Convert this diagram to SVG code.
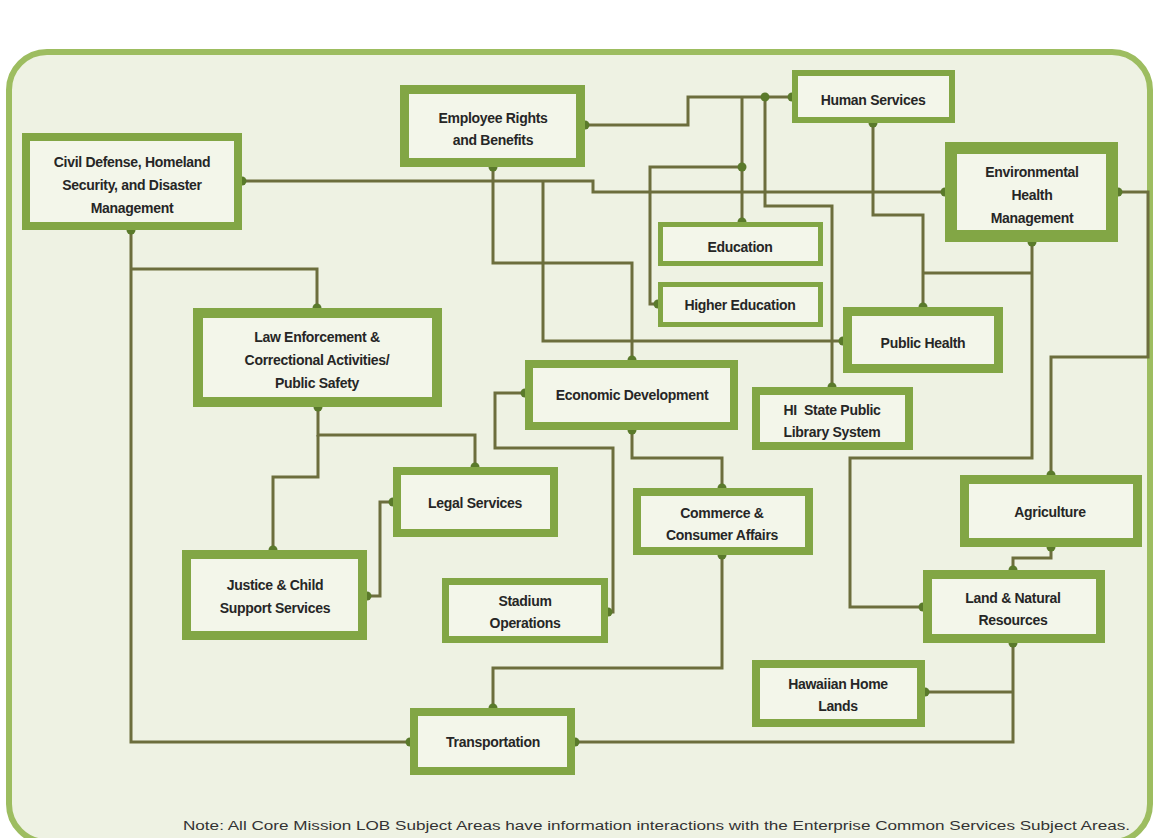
<svg xmlns="http://www.w3.org/2000/svg" width="1156" height="838" viewBox="0 0 1156 838">
<style>
.node rect{fill:#f3f6ea;stroke:#82a645}
.node text{font-family:"Liberation Sans",Arial,sans-serif;font-weight:bold;font-size:14px;fill:#262626;text-anchor:middle;letter-spacing:-0.3px}
#connectors path{fill:none;stroke:#6c6e3d;stroke-width:3}
#connectors circle{fill:#5a7a2b}
.note{font-family:"Liberation Sans",Arial,sans-serif;font-size:12px;fill:#333333}
</style>
<rect x="0" y="0" width="1156" height="838" fill="#ffffff"/>
<rect id="frame" x="9" y="52" width="1141" height="790" rx="38" fill="#eef2e3" stroke="#9dbd60" stroke-width="6"/>
<g id="connectors">
<path d="M242,181 H593 V192 H945"/>
<path d="M131,230 V742 H410"/>
<path d="M131,269 H317 V308"/>
<path d="M585,125 H688 V97 H792"/>
<path d="M742,97 V222"/>
<path d="M742,167 H650 V304 H658"/>
<path d="M765,97 V206 H832 V387"/>
<path d="M493,167 V263 H632 V360"/>
<path d="M543,182 V341 H843"/>
<path d="M873,123 V215 H923 V307"/>
<path d="M1032,242 V458 H850 V607 H923"/>
<path d="M1032,273 H923"/>
<path d="M1118,192 H1148 V357 H1051 V475"/>
<path d="M1051,547 V558 H1013 V570"/>
<path d="M1013,643 V742 H575"/>
<path d="M925,692 H1013"/>
<path d="M493,708 V668 H722 V555"/>
<path d="M722,488 V458 H632 V430"/>
<path d="M525,393 H495 V448 H613 V612 H608"/>
<path d="M318,407 V435 H475 V467"/>
<path d="M318,435 V477 H273 V550"/>
<path d="M367,596 H380 V502 H393"/>
<circle cx="242" cy="181" r="4.5"/><circle cx="945" cy="192" r="4.5"/>
<circle cx="131" cy="230" r="4.5"/><circle cx="410" cy="742" r="4.5"/>
<circle cx="317" cy="308" r="4.5"/>
<circle cx="585" cy="125" r="4.5"/><circle cx="792" cy="97" r="4.5"/><circle cx="765" cy="97" r="4.5"/>
<circle cx="742" cy="222" r="4.5"/><circle cx="742" cy="167" r="4.5"/>
<circle cx="658" cy="304" r="4.5"/>
<circle cx="832" cy="387" r="4.5"/>
<circle cx="493" cy="167" r="4.5"/><circle cx="632" cy="360" r="4.5"/>
<circle cx="843" cy="341" r="4.5"/>
<circle cx="873" cy="123" r="4.5"/><circle cx="923" cy="307" r="4.5"/>
<circle cx="1032" cy="242" r="4.5"/><circle cx="923" cy="607" r="4.5"/>
<circle cx="1118" cy="192" r="4.5"/><circle cx="1051" cy="475" r="4.5"/>
<circle cx="1051" cy="547" r="4.5"/><circle cx="1013" cy="570" r="4.5"/>
<circle cx="1013" cy="643" r="4.5"/><circle cx="575" cy="742" r="4.5"/>
<circle cx="925" cy="692" r="4.5"/>
<circle cx="493" cy="708" r="4.5"/><circle cx="722" cy="555" r="4.5"/>
<circle cx="722" cy="488" r="4.5"/><circle cx="632" cy="430" r="4.5"/>
<circle cx="525" cy="393" r="4.5"/><circle cx="608" cy="612" r="4.5"/>
<circle cx="318" cy="407" r="4.5"/><circle cx="475" cy="467" r="4.5"/>
<circle cx="273" cy="550" r="4.5"/>
<circle cx="367" cy="596" r="4.5"/><circle cx="393" cy="502" r="4.5"/>
</g>
<g id="civil" class="node"><rect x="26" y="137" width="212" height="89" stroke-width="8"/>
<text x="132" y="167">Civil Defense, Homeland</text><text x="132" y="190">Security, and Disaster</text><text x="132" y="213">Management</text></g>
<g id="employee" class="node"><rect x="404.5" y="89.5" width="176" height="73" stroke-width="9"/>
<text x="493" y="123">Employee Rights</text><text x="493" y="145">and Benefits</text></g>
<g id="human" class="node"><rect x="795" y="73" width="157" height="47" stroke-width="6"/>
<text x="873" y="105">Human Services</text></g>
<g id="env" class="node"><rect x="951" y="148" width="161" height="88" stroke-width="12"/>
<text x="1032" y="177">Environmental</text><text x="1032" y="200">Health</text><text x="1032" y="223">Management</text></g>
<g id="education" class="node"><rect x="660.5" y="224.5" width="160" height="39" stroke-width="5"/>
<text x="740" y="252">Education</text></g>
<g id="highered" class="node"><rect x="660.5" y="284.5" width="160" height="40" stroke-width="5"/>
<text x="740" y="310">Higher Education</text></g>
<g id="publichealth" class="node"><rect x="847.5" y="311.5" width="151" height="57" stroke-width="9"/>
<text x="923" y="348">Public Health</text></g>
<g id="library" class="node"><rect x="756" y="391" width="153" height="55" stroke-width="8"/>
<text x="832" y="415" xml:space="preserve">HI  State Public</text><text x="832" y="437">Library System</text></g>
<g id="econ" class="node"><rect x="529" y="364" width="205" height="62" stroke-width="8"/>
<text x="632" y="400">Economic Development</text></g>
<g id="law" class="node"><rect x="198" y="313" width="239" height="89" stroke-width="10"/>
<text x="317" y="342">Law Enforcement &amp;</text><text x="317" y="365">Correctional Activities/</text><text x="317" y="388">Public Safety</text></g>
<g id="legal" class="node"><rect x="397" y="471" width="157" height="62" stroke-width="8"/>
<text x="475" y="508">Legal Services</text></g>
<g id="justice" class="node"><rect x="186.5" y="554.5" width="176" height="81" stroke-width="9"/>
<text x="275" y="590">Justice &amp; Child</text><text x="275" y="613">Support Services</text></g>
<g id="stadium" class="node"><rect x="445.5" y="581.5" width="159" height="58" stroke-width="7"/>
<text x="525" y="606">Stadium</text><text x="525" y="628">Operations</text></g>
<g id="commerce" class="node"><rect x="637" y="492" width="172" height="59" stroke-width="8"/>
<text x="722" y="518">Commerce &amp;</text><text x="722" y="540">Consumer Affairs</text></g>
<g id="agriculture" class="node"><rect x="964.5" y="479.5" width="173" height="63" stroke-width="9"/>
<text x="1050" y="517">Agriculture</text></g>
<g id="land" class="node"><rect x="927.5" y="574.5" width="173" height="64" stroke-width="9"/>
<text x="1013" y="603">Land &amp; Natural</text><text x="1013" y="625">Resources</text></g>
<g id="hawaiian" class="node"><rect x="756" y="664" width="165" height="59" stroke-width="8"/>
<text x="838" y="689">Hawaiian Home</text><text x="838" y="711">Lands</text></g>
<g id="transportation" class="node"><rect x="414" y="712" width="157" height="59" stroke-width="8"/>
<text x="493" y="747">Transportation</text></g>
<text class="note" x="183" y="830" textLength="947" lengthAdjust="spacingAndGlyphs">Note: All Core Mission LOB Subject Areas have information interactions with the Enterprise Common Services Subject Areas.</text>
</svg>
